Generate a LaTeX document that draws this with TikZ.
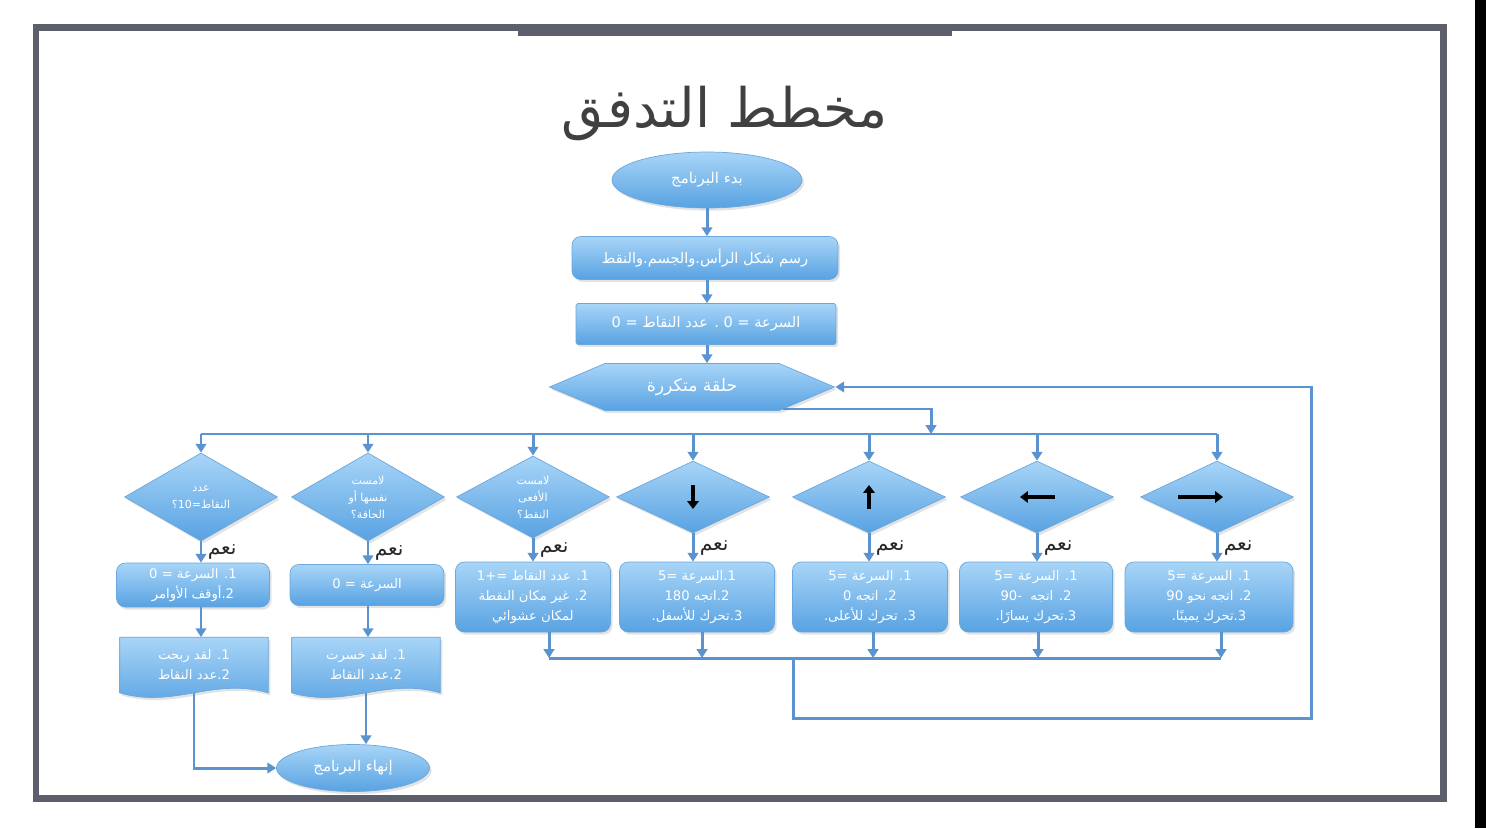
\documentclass[tikz,border=0pt]{standalone}
\usepackage{fontspec}
\newfontfamily\arabicfont[Script=Arabic]{DejaVu Sans}
\TeXXeTstate=1
\usepackage{xcolor}
\usepackage{tikz}
\usetikzlibrary{positioning, arrows.meta, calc, shapes.geometric, shapes.symbols, shadows, backgrounds}

\definecolor{flowtop}{HTML}{A8D5F7}
\definecolor{flowbot}{HTML}{58A2E2}
\definecolor{flowedge}{HTML}{6AA7DC}
\definecolor{flowline}{HTML}{5B93D1}
\definecolor{framegray}{HTML}{5C5F6B}

\newcommand{\rtl}[1]{\beginR #1\endR}

\begin{document}
\begin{tikzpicture}[x=0.02cm, y=-0.02cm,
    base/.style={top color=flowtop, bottom color=flowbot, draw=flowedge, thin, text=white,
        font=\arabicfont\fontsize{7.5}{11.5}\selectfont, align=center, inner sep=1pt,
        drop shadow={opacity=0.22, shadow xshift=1.2pt, shadow yshift=-1.5pt}},
    terminal/.style={base, ellipse, font=\arabicfont\fontsize{8.5}{11}\selectfont},
    procbox/.style={base, rectangle, rounded corners=5pt},
    decision/.style={base, diamond, minimum width=3.06cm, minimum height=1.44cm,
        font=\arabicfont\fontsize{6.3}{9.6}\selectfont},
    loopbox/.style={base, signal, signal to=west and east, signal pointer angle=46,
        minimum width=5.7cm, minimum height=0.94cm, font=\arabicfont\fontsize{9.8}{12}\selectfont},
    docbox/.style={rectangle, text=white, font=\arabicfont\fontsize{7.5}{11.5}\selectfont, align=center,
        minimum width=2.96cm, minimum height=1.1cm},
    docfill/.style={top color=flowtop, bottom color=flowbot, draw=flowedge, thin,
        drop shadow={opacity=0.22, shadow xshift=1.2pt, shadow yshift=-1.5pt}},
    line/.style={flowline, line width=1.7pt},
    flow/.style={line, -{Triangle[length=5pt, width=6pt]}},
    yeslab/.style={right, text=black!85, font=\arabicfont\fontsize{11.5}{12}\selectfont, inner sep=3pt},
    dirarrow/.style={black, line width=1.8pt, -{Triangle[length=4.5pt, width=6.5pt]}}
]
    \useasboundingbox (0,0) rectangle (1486,828);
    \fill[black] (1475,0) rectangle (1486,828);
    \draw[framegray, line width=0.14cm] (36,28) rectangle (1443,798);
    \fill[framegray] (518,25) rectangle (952,36);

    \node[text=black!75, font=\arabicfont\fontsize{31}{36}\selectfont] (title) at (725,113) {\rtl{مخطط التدفق}};

    \node[terminal, minimum width=3.8cm, minimum height=1.12cm] (start) at (707,180) {\rtl{بدء البرنامج}};
    \node[procbox, minimum width=5.32cm, minimum height=0.86cm, font=\arabicfont\fontsize{8.3}{11}\selectfont] (draw) at (705,258) {\rtl{رسم شكل الرأس.والجسم.والنقط}};
    \node[procbox, rounded corners=1pt, minimum width=5.2cm, minimum height=0.82cm, font=\arabicfont\fontsize{8.3}{11}\selectfont] (init) at (706,324) {\rtl{السرعة = 0 . عدد النقاط = 0}};
    \node[loopbox] (loop) at (692,387) {\rtl{حلقة متكررة}};

    \draw[flow] (start) -- (start |- draw.north);
    \draw[flow] (start |- draw.south) -- (start |- init.north);
    \draw[flow] (start |- init.south) -- (start |- loop.north);

    % decisions
    \node[decision] (score) at (201,497) {\rtl{عدد}\\\rtl{النقاط=10؟}};
    \node[decision] (crash) at (368,497) {\rtl{لامست}\\\rtl{نفسها أو}\\\rtl{الحافة؟}};
    \node[decision] (eat)   at (533,497) {\rtl{لامست}\\\rtl{الأفعى}\\\rtl{النقط؟}};
    \node[decision] (down)  at (693,497) {};
    \node[decision] (up)    at (869,497) {};
    \node[decision] (left)  at (1037,497) {};
    \node[decision] (right) at (1217,497) {};

    \draw[dirarrow] ([yshift=0.24cm]down.center) -- ([yshift=-0.24cm]down.center);
    \draw[dirarrow] ([yshift=-0.24cm]up.center) -- ([yshift=0.24cm]up.center);
    \draw[dirarrow] ([xshift=0.36cm]left.center) -- ([xshift=-0.34cm]left.center);
    \draw[dirarrow] ([xshift=-0.78cm]right.center) -- ([xshift=0.12cm]right.center);

    % bus from the loop
    \coordinate (split) at (931,434);
    \coordinate (busL) at (201,434);
    \coordinate (busR) at (1217,434);
    \draw[flow] ($(loop.east)+(-52,22)$) -| (split);
    \draw[line] (busL) -- (busR);
    \foreach \d in {score, crash, eat, down, up, left, right}
        \draw[flow] (busL -| \d) -- (\d);

    % actions
    \node[procbox, minimum width=3.06cm, minimum height=0.88cm] (stop) at (193,585) {\rtl{1. السرعة = 0}\\\rtl{2.أوقف الأوامر}};
    \node[procbox, minimum width=3.08cm, minimum height=0.82cm] (halt) at (367,585) {\rtl{السرعة = 0}};
    \node[procbox, minimum width=3.1cm, minimum height=1.4cm] (grow) at (533,597) {\rtl{1. عدد النقاط =+1}\\\rtl{2. غير مكان النقطة}\\\rtl{لمكان عشوائي}};
    \node[procbox, minimum width=3.1cm, minimum height=1.4cm] (gdown) at (697,597) {\rtl{1.السرعة =5}\\\rtl{2.اتجه 180}\\\rtl{3.تحرك للأسفل.}};
    \node[procbox, minimum width=3.1cm, minimum height=1.4cm] (gup) at (870,597) {\rtl{1. السرعة =5}\\\rtl{2. اتجه 0}\\\rtl{3. تحرك للأعلى.}};
    \node[procbox, minimum width=3.06cm, minimum height=1.4cm] (gleft) at (1036,597) {\rtl{1. السرعة =5}\\\rtl{2. اتجه \ -90}\\\rtl{3.تحرك يسارًا.}};
    \node[procbox, minimum width=3.36cm, minimum height=1.4cm] (gright) at (1209,597) {\rtl{1. السرعة =5}\\\rtl{2. اتجه نحو 90}\\\rtl{3.تحرك يمينًا.}};

    \draw[flow] (score.south) -- node[yeslab]{\rtl{نعم}} (score.south |- stop.north);
    \draw[flow] (crash.south) -- node[yeslab]{\rtl{نعم}} (crash.south |- halt.north);
    \foreach \d/\b in {eat/grow, down/gdown, up/gup, left/gleft, right/gright}
        \draw[flow] (\d.south) -- node[yeslab]{\rtl{نعم}} (\d.south |- \b.north);

    % back to the loop
    \coordinate (ret3) at (549,658);
    \coordinate (ret4) at (702,658);
    \coordinate (ret5) at (873,658);
    \coordinate (ret6) at (1038,658);
    \coordinate (ret7) at (1221,658);
    \coordinate (retmid) at (793,658);
    \coordinate (backR) at (1311,718);
    \foreach \b/\r in {grow/ret3, gdown/ret4, gup/ret5, gleft/ret6, gright/ret7}
        \draw[flow] (\b.south -| \r) -- (\r);
    \draw[line] (ret3) -- (ret7);
    \draw[flow] (retmid) |- (backR) |- (loop.east);

    % results
    \node[docbox] (won) at (194,665) {\rtl{1. لقد ربحت}\\\rtl{2.عدد النقاط}};
    \node[docbox] (lost) at (366,665) {\rtl{1. لقد خسرت}\\\rtl{2.عدد النقاط}};
    \begin{scope}[on background layer]
        \foreach \n in {won, lost}
            \path[docfill] (\n.north west) -- (\n.north east) -- (\n.south east)
                .. controls ($(\n.south east)+(-55,-16)$) and ($(\n.south west)+(55,16)$) .. (\n.south west) -- cycle;
    \end{scope}
    \node[terminal, minimum width=3.06cm, minimum height=0.94cm] (finish) at (353,768) {\rtl{إنهاء البرنامج}};

    \draw[flow] (score.south |- stop.south) -- (score.south |- won.north);
    \draw[flow] (crash.south |- halt.south) -- (crash.south |- lost.north);
    \draw[flow] (won) |- (finish);
    \draw[flow] (lost) -- (lost |- finish.north);
\end{tikzpicture}
\end{document}
